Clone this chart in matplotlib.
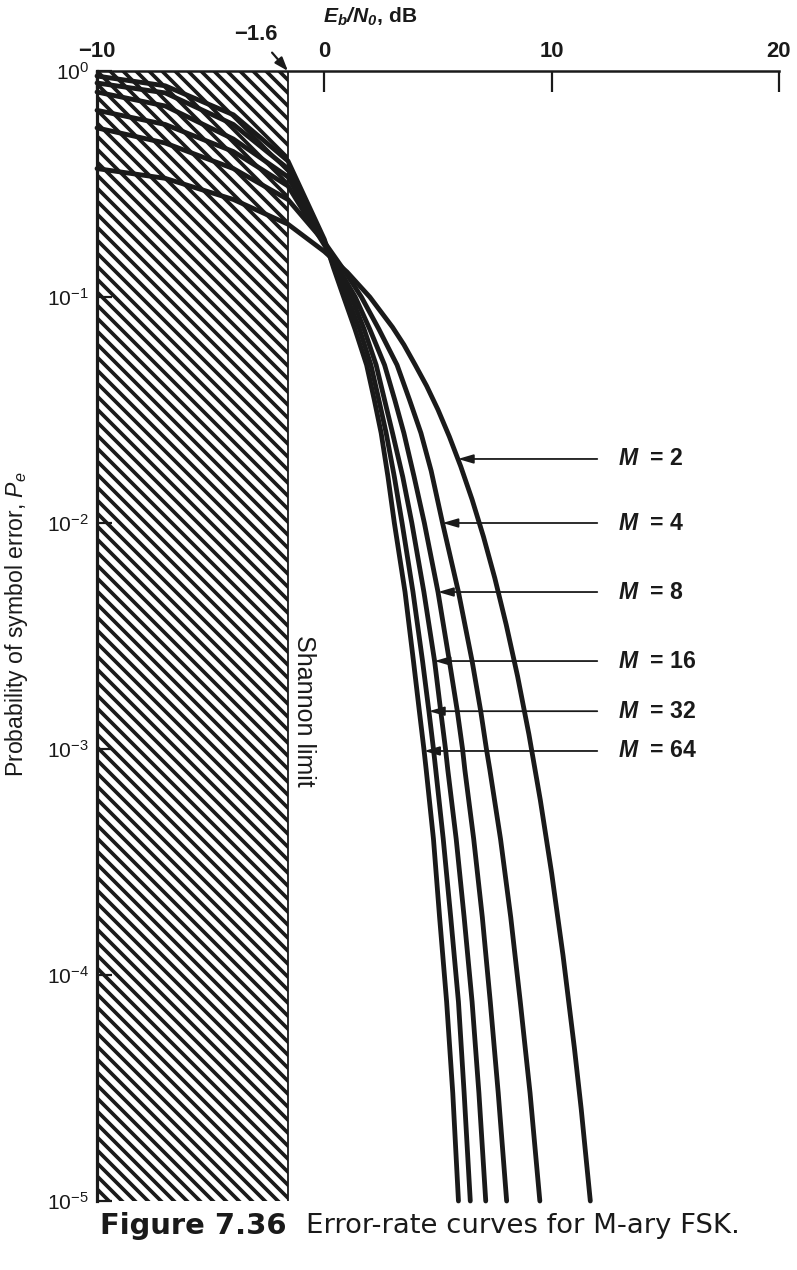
import matplotlib.pyplot as plt
import numpy as np
from matplotlib.patches import Rectangle

# figure is laid out in pixels of the 798x1270 reference; DPI chosen so the
# hatch gives the same stripe spacing as the printed figure
DPI = 156
PT = 72 / DPI  # points per pixel
INK = "#1a1a1a"

plt.rcParams["font.family"] = ["Liberation Sans", "DejaVu Sans"]
plt.rcParams["mathtext.fontset"] = "custom"
plt.rcParams["mathtext.rm"] = "Liberation Sans"
plt.rcParams["mathtext.it"] = "Liberation Sans:italic"
plt.rcParams["mathtext.bf"] = "Liberation Sans:bold"
plt.rcParams["mathtext.bfit"] = "Liberation Sans:bold:italic"
plt.rcParams["hatch.linewidth"] = 3.7 * PT
plt.rcParams["hatch.color"] = INK

# ---- data (Eb/N0 in dB, symbol error probability) ----
EBNO_M2 = [-10, -7, -4, -1.6, 0, 1, 2, 3, 3.5, 4, 4.5, 5, 5.5, 6, 6.5, 7, 7.5, 8, 8.5, 9, 9.5, 10, 10.5, 11, 11.3, 11.7]
PE_M2 = [0.37, 0.335, 0.27, 0.21, 0.159, 0.129, 0.100, 0.0735, 0.0615, 0.050, 0.0404, 0.0317, 0.0241, 0.0178, 0.0127,
         0.0087, 0.0057, 0.00355, 0.0021, 0.00116, 5.95e-4, 2.82e-4, 1.22e-4, 4.75e-5, 2.55e-5, 1e-5]

EBNO_M4 = [-10, -7, -4, -1.6, 0, 0.9, 1.63, 2.4, 3.2, 3.75, 4.25, 4.7, 5.2, 5.9, 6.5, 6.88, 7.13, 7.28, 7.75, 8.2, 8.62, 9.05, 9.48]
PE_M4 = [0.56, 0.48, 0.37, 0.27, 0.175, 0.13, 0.10, 0.072, 0.05, 0.035, 0.025, 0.017, 0.01, 4.95e-3, 2.45e-3, 1.47e-3, 1e-3, 8.1e-4, 4e-4, 1.8e-4, 7.6e-5, 3e-5, 1e-5]

EBNO_M8 = [-10, -7, -4, -1.6, 0, 0.7, 1.36, 2.0, 2.65, 3.1, 3.5, 3.95, 4.4, 5.0, 5.5, 5.85, 6.08, 6.18, 6.57, 6.95, 7.3, 7.65, 8.02]
PE_M8 = [0.67, 0.58, 0.44, 0.31, 0.17, 0.13, 0.10, 0.072, 0.05, 0.035, 0.025, 0.016, 0.01, 4.95e-3, 2.45e-3, 1.47e-3, 1e-3, 8.1e-4, 4e-4, 1.8e-4, 7.6e-5, 3e-5, 1e-5]

EBNO_M16 = [-10, -7, -4, -1.6, 0, 0.6, 1.19, 1.75, 2.28, 2.65, 3.0, 3.45, 3.85, 4.38, 4.85, 5.12, 5.33, 5.43, 5.8, 6.15, 6.5, 6.8, 7.1]
PE_M16 = [0.807, 0.70, 0.50, 0.34, 0.173, 0.13, 0.10, 0.072, 0.05, 0.035, 0.025, 0.016, 0.01, 4.95e-3, 2.45e-3, 1.47e-3, 1e-3, 8.1e-4, 4e-4, 1.8e-4, 7.6e-5, 3e-5, 1e-5]

EBNO_M32 = [-10, -7, -4, -1.6, 0, 0.5, 1.0, 1.55, 2.05, 2.4, 2.72, 3.08, 3.42, 3.9, 4.32, 4.6, 4.8, 4.9, 5.23, 5.56, 5.9, 6.15, 6.42]
PE_M32 = [0.885, 0.80, 0.58, 0.37, 0.177, 0.13, 0.10, 0.072, 0.05, 0.035, 0.025, 0.016, 0.01, 4.95e-3, 2.45e-3, 1.47e-3, 1e-3, 8.1e-4, 4e-4, 1.8e-4, 7.6e-5, 3e-5, 1e-5]

EBNO_M64 = [-10, -7, -4, -1.6, 0, 0.4, 0.85, 1.35, 1.86, 2.2, 2.5, 2.8, 3.08, 3.55, 3.92, 4.18, 4.38, 4.48, 4.8, 5.07, 5.38, 5.65, 5.9]
PE_M64 = [0.95, 0.86, 0.64, 0.40, 0.18, 0.135, 0.10, 0.072, 0.05, 0.035, 0.025, 0.016, 0.01, 4.95e-3, 2.45e-3, 1.47e-3, 1e-3, 8.1e-4, 4e-4, 1.8e-4, 7.6e-5, 3e-5, 1e-5]

CURVE_LABELS = ["M = 2", "M = 4", "M = 8", "M = 16", "M = 32", "M = 64"]
LABEL_PE = [0.0192, 0.0100, 0.00495, 0.00245, 0.00147, 0.00098]  # rows of the pointer arrows
LABEL_X = 12.9  # dB, left edge of the label text

SHANNON_LIMIT = -1.6
X_TICKS = [-10, 0, 10, 20]
X_TICK_LABELS = ["\u221210", "0", "10", "20"]
Y_TICKS = [1e0, 1e-1, 1e-2, 1e-3, 1e-4, 1e-5]
Y_TICK_LABELS = [r"$10^{0}$", r"$10^{-1}$", r"$10^{-2}$", r"$10^{-3}$", r"$10^{-4}$", r"$10^{-5}$"]

curves = [
    (EBNO_M2, PE_M2), (EBNO_M4, PE_M4), (EBNO_M8, PE_M8),
    (EBNO_M16, PE_M16), (EBNO_M32, PE_M32), (EBNO_M64, PE_M64),
]

W, H = 798, 1270
fig = plt.figure(figsize=(W / DPI, H / DPI), dpi=DPI, facecolor="white")
ax = fig.add_axes([97 / W, 1 - 1201 / H, 682 / W, 1130 / H])
ax.set_xlim(-10, 20)
ax.set_yscale("log")
ax.set_ylim(1e-5, 1)

for side in ("right", "bottom"):
    ax.spines[side].set_visible(False)
ax.spines["top"].set_linewidth(2.5 * PT)
ax.spines["left"].set_linewidth(3.2 * PT)
ax.spines["top"].set_color(INK)
ax.spines["left"].set_color(INK)

ax.xaxis.tick_top()
ax.set_xticks(X_TICKS)
ax.set_xticklabels(X_TICK_LABELS, fontsize=22 * PT, fontweight="bold", color=INK)
ax.tick_params(axis="x", direction="in", length=21 * PT, width=2.2 * PT, pad=9 * PT, colors=INK)
ax.set_yticks(Y_TICKS)
ax.set_yticklabels(Y_TICK_LABELS, fontsize=21 * PT, color=INK)
ax.yaxis.set_minor_locator(plt.NullLocator())
ax.tick_params(axis="y", direction="in", length=15 * PT, width=2.2 * PT, pad=8 * PT, colors=INK)

# region below the Shannon limit
ax.add_patch(Rectangle((-10, 1e-5), SHANNON_LIMIT + 10, 1 - 1e-5, fill=False,
                       hatch="\\\\\\\\", edgecolor=INK, linewidth=0, zorder=1))
ax.axvline(SHANNON_LIMIT, color=INK, lw=1.8 * PT, zorder=1)

for ebno, pe in curves:
    ax.plot(ebno, pe, color=INK, lw=4.8 * PT, solid_capstyle="round", solid_joinstyle="round",
            zorder=3, clip_on=False)

# pointer labels; arrow tip sits on the curve at the label's row
for (ebno, pe), label, row in zip(curves, CURVE_LABELS, LABEL_PE):
    tip = np.interp(np.log10(row), np.log10(pe)[::-1], np.array(ebno)[::-1])
    m, rest = label.split(" ", 1)
    ax.annotate(r"$\mathbfit{M}$  " + rest, xy=(tip, row), xytext=(LABEL_X, row),
                fontsize=23 * PT, fontweight="bold", color=INK, ha="left", va="center",
                arrowprops=dict(arrowstyle="-|>,head_length=0.75,head_width=0.22", color=INK,
                                lw=1.8 * PT, shrinkA=16 * PT, shrinkB=0, mutation_scale=17 * PT))

ax.annotate("\u22121.6", xy=(SHANNON_LIMIT, 1), xytext=(-32 * PT, 37 * PT), textcoords="offset points",
            fontsize=22 * PT, fontweight="bold", color=INK, ha="center", va="center",
            annotation_clip=False,
            arrowprops=dict(arrowstyle="-|>,head_length=0.7,head_width=0.25", color=INK, lw=2.2 * PT,
                            shrinkA=5 * PT, shrinkB=0, mutation_scale=16 * PT))

ax.text(SHANNON_LIMIT + 0.7, 1.48e-3, "Shannon limit", rotation=-90, fontsize=25 * PT, color=INK,
        ha="center", va="center")

fig.text(370 / W, 1 - 17 / H, r"$\mathbfit{E_b/N_0}$, dB", fontsize=21 * PT, fontweight="bold",
         color=INK, ha="center", va="center")
fig.text(17 / W, 1 - 624 / H, r"Probability of symbol error, $\mathit{P_e}$", rotation=90,
         fontsize=23 * PT, color=INK, ha="center", va="center")

fig.text(100 / W, 1 - 1226 / H, "Figure 7.36", fontsize=29 * PT, fontweight="bold", color=INK,
         family="DejaVu Sans", ha="left", va="center")
fig.text(306 / W, 1 - 1226 / H, "Error-rate curves for M-ary FSK.", fontsize=27.5 * PT, color=INK,
         family="DejaVu Sans", ha="left", va="center")

fig.savefig("out.png", dpi=DPI, facecolor="white")
